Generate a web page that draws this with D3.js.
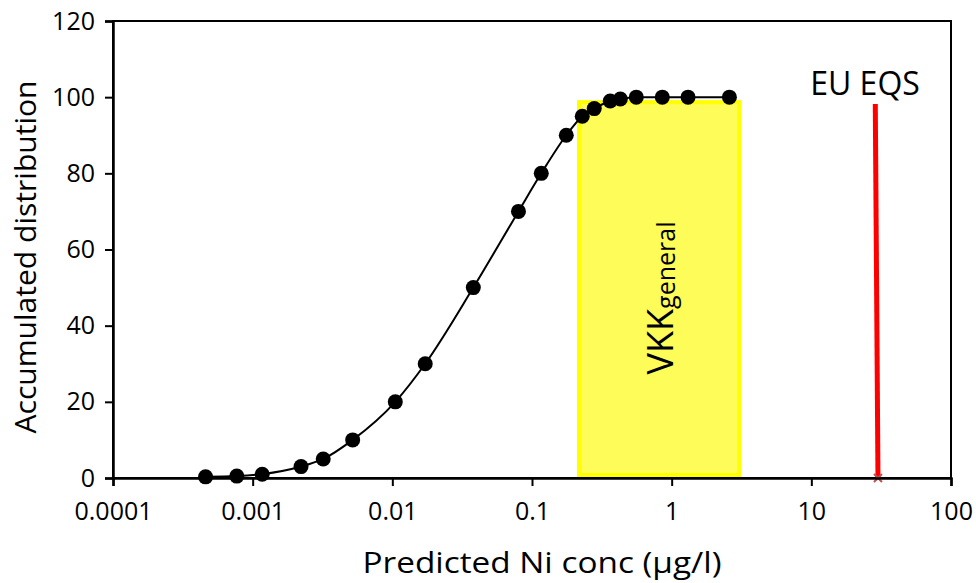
<!DOCTYPE html>
<html>
<head>
<meta charset="utf-8">
<script src="https://cdn.jsdelivr.net/npm/d3@7"></script>
<style>
  body { margin: 0; background: #fff; }
  text { font-family: "Open Sans", sans-serif; fill: #000; }
</style>
</head>
<body>
<div id="viz"></div>
<script>
// predicted Ni concentrations (ug/l) and accumulated distribution (%)
var conc = [0.00046, 0.00077, 0.00117, 0.00222, 0.0032, 0.0052, 0.0105, 0.0172,
            0.038, 0.08, 0.1165, 0.176, 0.229, 0.279, 0.363, 0.429, 0.558, 0.857, 1.31, 2.59];
var accum = [0.3, 0.5, 1, 3, 5, 10, 20, 30, 50, 70, 80, 90, 95, 97, 99, 99.5, 100, 100, 100, 100];

var xTicks = [0.0001, 0.001, 0.01, 0.1, 1, 10, 100];
var xTickLabels = ["0.0001", "0.001", "0.01", "0.1", "1", "10", "100"];
var yTicks = [0, 20, 40, 60, 80, 100, 120];

// VKK general range box
var vkkX = [0.217, 3.05];
var vkkY = [0.8, 98.7];

// EU EQS line
var eqsX = [28.7, 30];
var eqsY = [98.2, 0];

var canw = 976, canh = 583;
var padL = 113, padR = 951, padT = 21, padB = 478;

var svg = d3.select("#viz").append("svg")
    .attr("width", canw)
    .attr("height", canh);

var x = d3.scaleLog().domain([0.0001, 100]).range([padL, padR]);
var y = d3.scaleLinear().domain([0, 120]).range([padB, padT]);

// frame
svg.append("rect")
    .attr("x", padL).attr("y", padT)
    .attr("width", padR - padL).attr("height", padB - padT)
    .style("fill", "none").style("stroke", "#000").style("stroke-width", 2);

// yellow box
svg.append("rect")
    .attr("x", x(vkkX[0]))
    .attr("y", y(vkkY[1]))
    .attr("width", x(vkkX[1]) - x(vkkX[0]))
    .attr("height", y(vkkY[0]) - y(vkkY[1]))
    .style("fill", "#fdfc58")
    .style("stroke", "#ffff00")
    .style("stroke-width", 4);

var vx = (x(vkkX[0]) + x(vkkX[1])) / 2;
var vt = svg.append("text")
    .attr("transform", "translate(" + (vx + 14) + ",298) rotate(-90)")
    .attr("text-anchor", "middle")
    .style("font-size", "36px");
vt.append("tspan").text("VKK");
vt.append("tspan").attr("dy", 2).style("font-size", "25px").text("general");

// EQS line
svg.append("line")
    .attr("x1", x(eqsX[0])).attr("y1", y(eqsY[0]))
    .attr("x2", x(eqsX[1])).attr("y2", y(eqsY[1]))
    .style("stroke", "#ff0000").style("stroke-width", 5);

var mx = x(eqsX[1]), my = y(eqsY[1]);
svg.append("path")
    .attr("d", "M" + (mx - 4) + "," + (my - 4) + "L" + (mx + 4) + "," + (my + 4) +
               "M" + (mx + 4) + "," + (my - 4) + "L" + (mx - 4) + "," + (my + 4))
    .style("stroke", "#c0504d").style("stroke-width", 2);

svg.append("text")
    .attr("x", 865).attr("y", 95)
    .attr("text-anchor", "middle")
    .style("font-size", "32px")
    .text("EU EQS");

// axes
var xAxis = svg.append("g")
    .attr("transform", "translate(0," + padB + ")")
    .call(d3.axisBottom(x).tickValues(xTicks)
        .tickFormat(function(d, i){ return xTickLabels[i]; })
        .tickSize(8).tickPadding(16));
var yAxis = svg.append("g")
    .attr("transform", "translate(" + padL + ",0)")
    .call(d3.axisLeft(y).tickValues(yTicks).tickSize(8).tickPadding(10));

[xAxis, yAxis].forEach(function(a){
    a.select(".domain").style("stroke", "#000").style("stroke-width", 2.5);
    a.selectAll(".tick line").style("stroke", "#000").style("stroke-width", 2);
    a.selectAll(".tick text").style("font-size", "25px").style("font-family", "Open Sans, sans-serif");
});

// curve
var pts = conc.map(function(c, i){ return [c, accum[i]]; });
svg.append("path")
    .datum(pts)
    .attr("d", d3.line()
        .x(function(d){ return x(d[0]); })
        .y(function(d){ return y(d[1]); })
        .curve(d3.curveMonotoneX))
    .style("fill", "none").style("stroke", "#000").style("stroke-width", 2);

svg.selectAll("circle.pt")
    .data(pts)
    .enter().append("circle")
    .attr("class", "pt")
    .attr("cx", function(d){ return x(d[0]); })
    .attr("cy", function(d){ return y(d[1]); })
    .attr("r", 7.5)
    .style("fill", "#000");

// axis titles
svg.append("text")
    .attr("x", 542).attr("y", 573)
    .attr("text-anchor", "middle")
    .attr("textLength", 359).attr("lengthAdjust", "spacingAndGlyphs")
    .style("font-size", "29px")
    .text("Predicted Ni conc (µg/l)");

svg.append("text")
    .attr("transform", "translate(36,257) rotate(-90)")
    .attr("text-anchor", "middle")
    .attr("textLength", 353).attr("lengthAdjust", "spacingAndGlyphs")
    .style("font-size", "29px")
    .text("Accumulated distribution");
</script>
</body>
</html>
